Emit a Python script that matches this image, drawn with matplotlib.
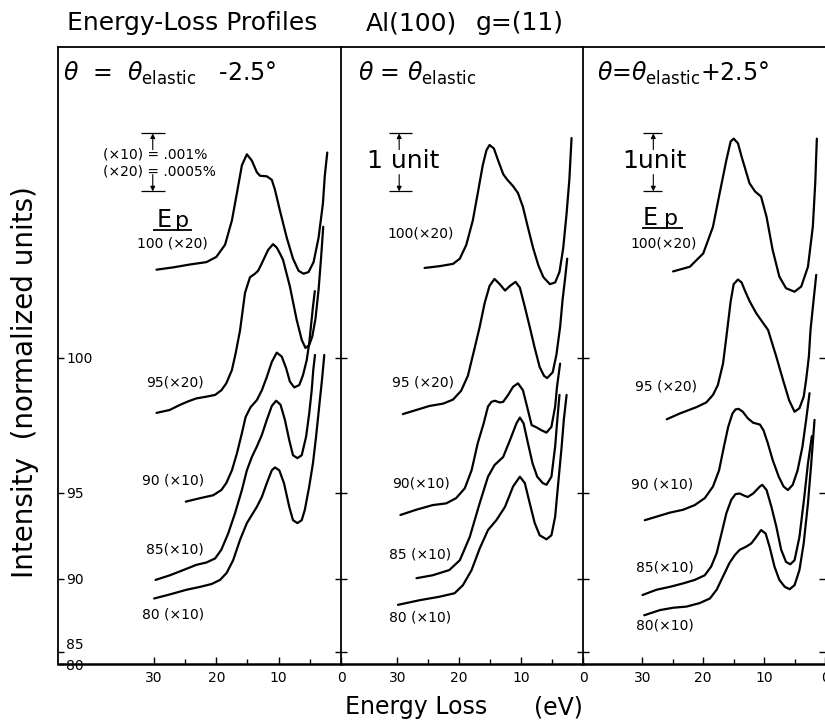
import matplotlib.pyplot as plt

plt.rcParams['font.family'] = ['DejaVu Sans']
plt.rcParams['mathtext.fontset'] = 'dejavusans'

# energy loss (eV) and stacked intensity (normalized units)
# left panel: theta = theta_elastic - 2.5 deg
m100_loss = [29.6, 26.9, 24.2, 21.6, 20.0, 18.6, 17.5, 16.7, 15.9, 15.1, 14.3, 13.5, 13.0, 11.9,
             11.1, 10.6, 9.8, 8.7, 7.7, 6.8, 6.0, 5.2, 4.4, 3.6, 2.9, 2.6, 2.2]
m100_int = [6.80, 6.84, 6.89, 6.93, 7.02, 7.23, 7.65, 8.12, 8.60, 8.79, 8.68, 8.48, 8.42, 8.41,
            8.35, 8.18, 7.82, 7.35, 6.99, 6.78, 6.73, 6.76, 6.93, 7.35, 7.94, 8.42, 8.82]
m95_loss = [29.6, 27.5, 25.8, 24.5, 23.2, 21.6, 20.2, 19.2, 18.4, 17.5, 16.9, 16.2, 15.4, 14.6,
            13.8, 13.3, 12.7, 11.7, 10.9, 10.3, 9.8, 9.3, 8.2, 7.1, 6.3, 5.7, 5.1, 4.6, 4.1, 3.6,
            3.2, 2.85]
m95_int = [4.33, 4.38, 4.47, 4.53, 4.58, 4.61, 4.64, 4.72, 4.84, 5.07, 5.36, 5.75, 6.40, 6.67,
           6.73, 6.78, 6.91, 7.14, 7.24, 7.18, 7.08, 6.97, 6.51, 5.93, 5.59, 5.45, 5.50, 5.65,
           5.95, 6.45, 7.00, 7.54]
m90_loss = [24.9, 22.6, 20.5, 19.2, 18.4, 17.5, 16.7, 15.9, 15.3, 14.5, 13.5, 12.7, 11.9, 11.1,
            10.3, 9.5, 8.8, 8.2, 7.5, 6.7, 6.1, 5.5, 5.1, 4.5, 4.2]
m90_int = [2.80, 2.86, 2.91, 3.00, 3.12, 3.34, 3.63, 3.98, 4.26, 4.43, 4.55, 4.72, 4.95, 5.21,
           5.37, 5.30, 5.10, 4.87, 4.77, 4.81, 4.98, 5.24, 5.53, 6.16, 6.43]
m85_loss = [29.75, 27.45, 25.3, 23.2, 21.6, 20.2, 19.2, 18.1, 17.0, 15.9, 15.1, 14.3, 13.5, 12.7,
            11.9, 11.1, 10.4, 9.7, 9.0, 8.3, 7.7, 7.0, 6.3, 5.6, 5.1, 4.7, 4.45, 4.17]
m85_int = [1.45, 1.53, 1.62, 1.71, 1.75, 1.82, 1.97, 2.25, 2.60, 3.00, 3.34, 3.57, 3.75, 3.95,
           4.21, 4.45, 4.54, 4.47, 4.21, 3.86, 3.60, 3.55, 3.60, 3.92, 4.32, 4.72, 5.07, 5.33]
m80_loss = [29.97, 27.45, 24.8, 22.6, 20.75, 19.4, 18.35, 17.3, 16.2, 15.1, 14.3, 13.5, 12.7,
            11.9, 11.1, 10.6, 9.9, 9.15, 8.3, 7.7, 7.0, 6.3, 5.8, 5.1, 4.5, 4.0, 3.5, 3.05, 2.68]
m80_int = [1.13, 1.20, 1.28, 1.33, 1.38, 1.45, 1.57, 1.79, 2.14, 2.43, 2.57, 2.71, 2.88, 3.12,
           3.34, 3.39, 3.34, 3.12, 2.71, 2.48, 2.43, 2.48, 2.66, 3.06, 3.46, 3.92, 4.44, 4.90, 5.33]

# middle panel: theta = theta_elastic
e100_loss = [25.6, 23.2, 21.0, 19.9, 18.85, 17.8, 17.0, 16.2, 15.6, 15.1, 14.4, 13.7, 12.9, 12.3,
             11.3, 10.5, 9.7, 8.9, 8.05, 7.2, 6.4, 5.35, 4.5, 3.8, 3.2, 2.65, 2.2, 1.85]
e100_int = [6.83, 6.86, 6.90, 6.99, 7.23, 7.65, 8.12, 8.60, 8.86, 8.95, 8.89, 8.68, 8.45, 8.36,
            8.24, 8.12, 7.88, 7.53, 7.17, 6.87, 6.67, 6.55, 6.58, 6.76, 7.17, 7.77, 8.36, 9.07]
e95_loss = [29.1, 26.95, 24.8, 22.6, 21.0, 19.7, 18.6, 17.5, 16.7, 15.9, 15.1, 14.3, 13.45, 12.6,
            11.8, 10.9, 10.2, 9.4, 8.6, 7.8, 7.0, 6.3, 5.8, 4.9, 4.3, 3.7, 3.3, 2.9, 2.55]
e95_int = [4.31, 4.38, 4.45, 4.49, 4.56, 4.71, 4.97, 5.45, 5.81, 6.22, 6.52, 6.64, 6.55, 6.44,
           6.52, 6.59, 6.49, 6.16, 5.81, 5.45, 5.12, 4.97, 4.93, 5.03, 5.33, 5.81, 6.28, 6.64, 6.99]
e90_loss = [29.5, 26.95, 24.3, 22.1, 20.5, 19.1, 18.0, 17.0, 16.05, 15.35, 14.8, 14.26, 13.45,
            12.9, 12.1, 11.3, 10.5, 9.7, 8.9, 8.3, 7.5, 6.7, 5.9, 5.1, 4.5, 4.2, 3.7]
e90_int = [2.57, 2.66, 2.74, 2.77, 2.86, 3.03, 3.34, 3.81, 4.15, 4.44, 4.52, 4.54, 4.51, 4.52,
           4.64, 4.78, 4.84, 4.72, 4.38, 4.12, 4.08, 4.03, 3.99, 4.09, 4.44, 4.78, 5.18]
e85_loss = [26.9, 24.3, 21.6, 19.9, 18.3, 16.7, 15.35, 14.3, 12.9, 11.8, 10.75, 10.2, 9.6, 8.9,
            8.15, 7.4, 6.5, 5.9, 5.1, 4.5, 4.2, 3.8]
e85_int = [1.48, 1.53, 1.62, 1.79, 2.19, 2.77, 3.23, 3.43, 3.57, 3.86, 4.15, 4.25, 4.15, 3.81,
           3.46, 3.23, 3.12, 3.09, 3.23, 3.75, 4.15, 4.64]
e80_loss = [29.9, 26.4, 23.2, 20.75, 19.4, 18.0, 16.7, 15.35, 14.0, 12.6, 11.3, 10.2, 9.4, 8.6,
            7.8, 7.0, 5.9, 5.1, 4.5, 4.0, 3.45, 3.1, 2.65]
e80_int = [1.02, 1.10, 1.16, 1.22, 1.36, 1.62, 1.99, 2.31, 2.48, 2.71, 3.06, 3.23, 3.12, 2.77,
           2.43, 2.22, 2.15, 2.22, 2.54, 3.12, 3.75, 4.21, 4.64]

# right panel: theta = theta_elastic + 2.5 deg
p100_loss = [24.95, 22.2, 20.0, 18.4, 17.3, 16.2, 15.5, 15.0, 14.3, 13.7, 12.4, 11.5, 10.5, 9.6,
             8.6, 7.5, 6.4, 5.0, 3.9, 2.8, 2.0, 1.6, 1.34]
p100_int = [6.77, 6.85, 7.08, 7.54, 8.12, 8.69, 9.01, 9.06, 8.98, 8.75, 8.29, 8.15, 8.06, 7.71,
            7.14, 6.68, 6.48, 6.42, 6.51, 6.85, 7.54, 8.30, 9.06]
p95_loss = [26.0, 23.85, 21.1, 19.5, 18.4, 17.6, 16.75, 16.2, 15.5, 15.0, 14.3, 13.7, 13.2, 12.4,
            11.3, 10.5, 9.35, 8.0, 6.9, 5.9, 5.0, 4.2, 3.5, 3.1, 2.65, 2.38, 1.9, 1.44]
p95_int = [4.22, 4.32, 4.43, 4.51, 4.64, 4.81, 5.18, 5.64, 6.25, 6.55, 6.63, 6.58, 6.45, 6.26,
           6.05, 5.93, 5.76, 5.30, 4.90, 4.55, 4.35, 4.41, 4.61, 4.90, 5.30, 5.76, 6.25, 6.71]
p90_loss = [29.6, 27.7, 25.5, 23.3, 21.4, 19.75, 18.4, 17.4, 16.6, 15.9, 15.2, 14.7, 14.2, 13.5,
            12.7, 11.8, 10.7, 10.1, 9.4, 8.6, 7.6, 6.8, 6.1, 5.3, 4.5, 3.7, 3.1, 2.54]
p90_int = [2.48, 2.54, 2.61, 2.66, 2.74, 2.86, 3.06, 3.34, 3.75, 4.09, 4.32, 4.39, 4.40, 4.35,
           4.24, 4.16, 4.13, 4.03, 3.81, 3.52, 3.23, 3.06, 3.00, 3.09, 3.34, 3.75, 4.21, 4.67]
p85_loss = [29.97, 27.7, 25.5, 23.3, 21.4, 19.75, 18.7, 17.8, 17.0, 16.2, 15.4, 14.7, 14.0, 13.2,
            12.7, 11.8, 10.7, 10.3, 9.6, 8.8, 8.0, 7.2, 6.4, 5.7, 5.0, 4.2, 3.4, 2.8, 2.16]
p85_int = [1.19, 1.28, 1.33, 1.39, 1.45, 1.53, 1.68, 1.91, 2.25, 2.60, 2.83, 2.93, 2.94, 2.90,
           2.88, 2.94, 3.06, 3.09, 3.00, 2.71, 2.37, 1.97, 1.76, 1.72, 1.79, 2.19, 2.88, 3.46, 3.93]
p80_loss = [29.7, 27.1, 24.95, 22.75, 20.6, 18.9, 17.8, 16.75, 15.7, 14.8, 14.0, 13.0, 12.1, 11.3,
            10.5, 9.75, 9.1, 8.3, 7.5, 6.6, 5.8, 5.0, 4.2, 3.5, 2.8, 2.26, 1.72]
p80_int = [0.84, 0.93, 0.97, 0.99, 1.05, 1.13, 1.28, 1.51, 1.74, 1.88, 1.97, 2.02, 2.08, 2.19,
           2.31, 2.25, 2.02, 1.68, 1.45, 1.33, 1.29, 1.36, 1.62, 2.08, 2.77, 3.46, 4.21]

# baseline marks on the intensity axis, one per primary energy Ep
ep_labels = ['100', '95', '90', '85', '80']
ep_levels = [5.28, 2.95, 1.47, 0.21, 0.0]

p1_labels = ['100 (×20)', '95(×20)', '90 (×10)', '85(×10)', '80 (×10)']
p2_labels = ['100(×20)', '95 (×20)', '90(×10)', '85 (×10)', '80 (×10)']
p3_labels = ['100(×20)', '95 (×20)', '90 (×10)', '85(×10)', '80(×10)']
loss_ticks = [30, 20, 10, 0]
loss_ticklabels = ['30', '20', '10', '0']

# ---- layout, in pixels of the 825x724 picture ----
W, H = 825.0, 724.0
fig = plt.figure(figsize=(8.25, 7.24), dpi=100)


def box(x0, x1):
    return [x0 / W, 1 - 664 / H, (x1 - x0) / W, (664 - 47) / H]


ax1 = fig.add_axes(box(58, 341))
ax2 = fig.add_axes(box(341, 583))
ax3 = fig.add_axes(box(583, 825))
ax1.set_xlim(45.4, 0)
ax2.set_xlim(39.1, 0)
ax3.set_xlim(39.75, 0.08)

panels = [
    (ax1, [(m100_loss, m100_int), (m95_loss, m95_int), (m90_loss, m90_int),
           (m85_loss, m85_int), (m80_loss, m80_int)], p1_labels,
     [(27.1, 7.26), (26.6, 4.86), (27.0, 3.17), (26.7, 1.98), (27.0, 0.86)]),
    (ax2, [(e100_loss, e100_int), (e95_loss, e95_int), (e90_loss, e90_int),
           (e85_loss, e85_int), (e80_loss, e80_int)], p2_labels,
     [(26.3, 7.43), (25.8, 4.86), (26.2, 3.12), (26.3, 1.88), (26.4, 0.81)]),
    (ax3, [(p100_loss, p100_int), (p95_loss, p95_int), (p90_loss, p90_int),
           (p85_loss, p85_int), (p80_loss, p80_int)], p3_labels,
     [(26.5, 7.26), (26.1, 4.78), (26.7, 3.10), (26.3, 1.66), (26.3, 0.66)]),
]

for ax, curves, labels, spots in panels:
    ax.set_ylim(0, 10.64)
    for loss, inten in curves:
        ax.plot(loss, inten, color='k', lw=1.6, solid_joinstyle='round', solid_capstyle='round')
    for lab, (x, y) in zip(labels, spots):
        ax.text(x, y, lab, fontsize=10, ha='center', va='center')
    ax.set_xticks(loss_ticks)
    ax.set_xticklabels(loss_ticklabels)
    ax.set_xticks([25, 15, 5], minor=True)
    ax.tick_params(axis='x', which='major', direction='in', length=5, width=1, labelsize=10, pad=5)
    ax.tick_params(axis='x', which='minor', direction='in', length=3.5, width=1)
    for s in ax.spines.values():
        s.set_linewidth(1.3)
    ax.spines['bottom'].set_linewidth(1.8)
    ax.set_facecolor('none')

ax2.spines['left'].set_visible(False)
ax3.spines['left'].set_visible(False)
ax3.spines['right'].set_visible(False)

ax1.set_yticks(ep_levels)
ax1.set_yticklabels(ep_labels)
ax1.tick_params(axis='y', direction='in', length=4, width=1, labelsize=10, pad=-6)
for t in ax1.get_yticklabels():
    t.set_ha('left')
    if t.get_text() == '85':
        t.set_va('bottom')
for ax in (ax2, ax3):
    ax.set_yticks(ep_levels[:-1])
    ax.set_yticklabels([])
    ax.tick_params(axis='y', direction='inout', length=9, width=1, left=True,
                   right=(ax is ax3))


def scale_bar(ax, x0, x1, xa):
    ax.hlines([9.15, 8.15], x0, x1, color='k', lw=0.9)
    arrow = dict(arrowstyle='-|>', color='k', lw=0.8, mutation_scale=7, shrinkA=0, shrinkB=0)
    ax.annotate('', xy=(xa, 9.15), xytext=(xa, 8.87), arrowprops=arrow)
    ax.annotate('', xy=(xa, 8.15), xytext=(xa, 8.44), arrowprops=arrow)


def ep_mark(ax, xe, xp, y, u0, u1):
    ax.text(xe, y, 'E', fontsize=17, ha='left', va='baseline')
    ax.text(xp, y, 'p', fontsize=16, ha='left', va='baseline')
    ax.hlines(y - 0.05, u0, u1, color='k', lw=1.3)


scale_bar(ax1, 32.15, 28.2, 30.2)
ax1.text(38.25, 8.78, '(×10) = .001%', fontsize=10, ha='left', va='center')
ax1.text(38.25, 8.49, '(×20) = .0005%', fontsize=10, ha='left', va='center')
ep_mark(ax1, 29.6, 26.7, 7.53, 30.2, 23.9)

scale_bar(ax2, 31.4, 27.6, 29.7)
ax2.text(34.9, 8.67, '1 unit', fontsize=18, ha='left', va='center')

scale_bar(ax3, 29.9, 26.8, 28.2)
ax3.text(33.3, 8.67, '1unit', fontsize=18, ha='left', va='center')
ep_mark(ax3, 29.9, 26.4, 7.57, 30.1, 23.4)

# headers and titles
fig.text(67 / W, 1 - 23 / H, 'Energy-Loss Profiles', fontsize=18, ha='left', va='center')
fig.text(366 / W, 1 - 23 / H, 'Al(100)', fontsize=18, ha='left', va='center')
fig.text(476 / W, 1 - 23 / H, 'g=(11)', fontsize=18, ha='left', va='center')
fig.text(63 / W, 1 - 73 / H, r'$\theta$  =  $\theta_{\mathrm{elastic}}$   -2.5°', fontsize=17,
         ha='left', va='center')
fig.text(358 / W, 1 - 73 / H, r'$\theta$ = $\theta_{\mathrm{elastic}}$', fontsize=17,
         ha='left', va='center')
fig.text(597 / W, 1 - 73 / H, r'$\theta$=$\theta_{\mathrm{elastic}}$+2.5°', fontsize=17,
         ha='left', va='center')
fig.text(25 / W, 1 - 382 / H, 'Intensity  (normalized units)', fontsize=20, rotation=90,
         ha='center', va='center')
fig.text(416 / W, 1 - 707 / H, 'Energy Loss', fontsize=17, ha='center', va='center')
fig.text(558 / W, 1 - 707 / H, '(eV)', fontsize=17, ha='center', va='center')

fig.savefig('out.png', dpi=100)
